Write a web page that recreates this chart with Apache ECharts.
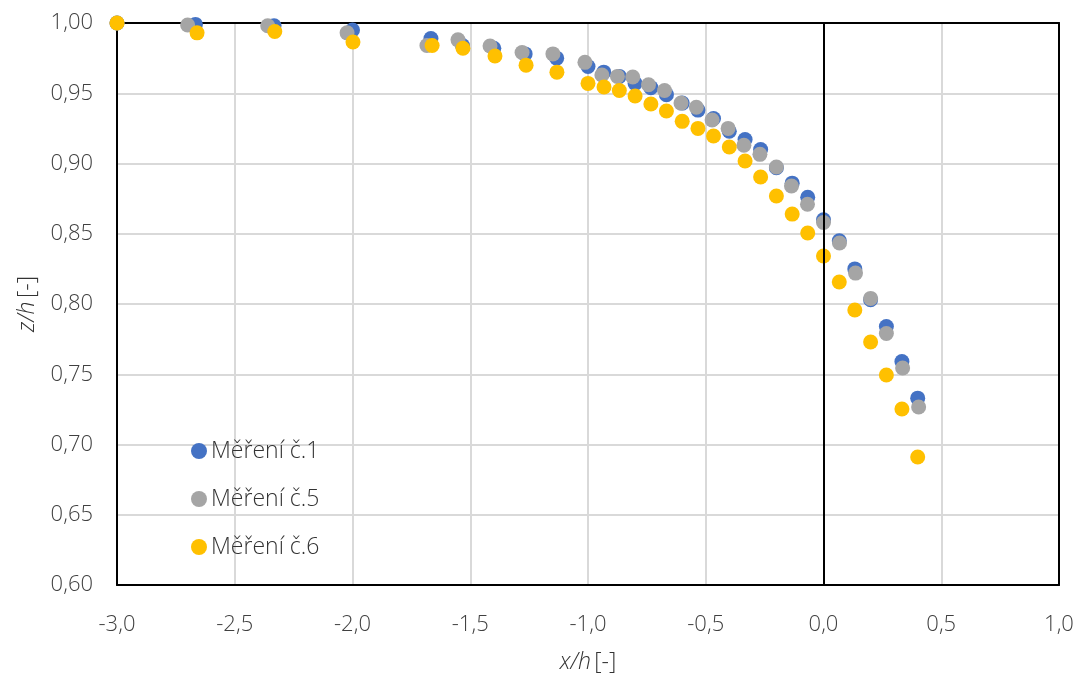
<!DOCTYPE html>
<html><head><meta charset="utf-8">
<script src="https://cdn.jsdelivr.net/npm/echarts@6/dist/echarts.min.js"></script>
<style>html,body{margin:0;padding:0;background:#fff;overflow:hidden}#c{width:1084px;height:673px;display:block}</style>
</head><body><div id="c"></div>
<script>
const seriesNames = ["Měření č.1", "Měření č.5", "Měření č.6"];
const x1 = [-3.0,-2.667,-2.333,-2.0,-1.667,-1.533,-1.4,-1.267,-1.133,-1.0,-0.933,-0.867,-0.8,-0.733,-0.667,-0.6,-0.533,-0.467,-0.4,-0.333,-0.267,-0.2,-0.133,-0.067,0.0,0.067,0.133,0.2,0.267,0.333,0.4];
const y1 = [1.0,0.999,0.998,0.995,0.989,0.984,0.982,0.978,0.975,0.969,0.965,0.962,0.957,0.954,0.949,0.943,0.938,0.932,0.923,0.917,0.910,0.897,0.886,0.876,0.860,0.845,0.825,0.803,0.784,0.759,0.733];
const x5 = [-3.0,-2.70,-2.36,-2.023,-1.684,-1.552,-1.416,-1.280,-1.149,-1.013,-0.941,-0.875,-0.81,-0.743,-0.675,-0.605,-0.54,-0.473,-0.405,-0.338,-0.27,-0.2,-0.136,-0.068,0.0,0.068,0.136,0.2,0.267,0.336,0.404];
const y5 = [1.0,0.9986,0.998,0.993,0.984,0.988,0.9836,0.979,0.978,0.972,0.963,0.962,0.9616,0.956,0.952,0.943,0.940,0.931,0.925,0.913,0.9065,0.8975,0.884,0.871,0.858,0.8434,0.822,0.804,0.779,0.7544,0.7267];
const x6 = [-3.0,-2.66,-2.33,-1.998,-1.662,-1.531,-1.395,-1.263,-1.132,-1.0,-0.932,-0.867,-0.8,-0.733,-0.667,-0.6,-0.533,-0.467,-0.4,-0.333,-0.267,-0.2,-0.133,-0.067,0.0,0.067,0.133,0.2,0.267,0.333,0.4];
const y6 = [1.0,0.993,0.994,0.9865,0.984,0.982,0.9765,0.970,0.965,0.957,0.9544,0.952,0.948,0.9423,0.9374,0.930,0.925,0.9196,0.9117,0.9018,0.8904,0.8769,0.864,0.8505,0.8342,0.8157,0.7957,0.773,0.7495,0.7253,0.6911];
const colors = ["#4472C4", "#A5A5A5", "#FFC000"];

const zip = (a, b) => a.map((v, i) => [v, b[i]]);
const fmt = (d) => (v) => v.toFixed(d).replace('.', ',');
const chart = echarts.init(document.getElementById('c'), null, {renderer: 'canvas'});
const font = 'Open Sans';
const tickStyle = {fontFamily: font, fontSize: 22, fontWeight: 300, color: '#404040'};
const rich = {i: {fontFamily: font, fontSize: 23, fontWeight: 300, fontStyle: 'italic', color: '#333333'}, n: {fontFamily: font, fontSize: 23, fontWeight: 300, color: '#333333'}};
const blackLine = {show: true, onZero: false, lineStyle: {color: '#000', width: 2}};
chart.setOption({
  animation: false,
  backgroundColor: '#fff',
  grid: {left: 117, right: 25, top: 23, bottom: 88, outerBoundsMode: 'none', containLabel: false},
  legend: {
    orient: 'vertical', left: 186, top: 434, itemGap: 24, itemWidth: 16, itemHeight: 16, icon: 'circle',
    textStyle: {fontFamily: font, fontSize: 23, fontWeight: 300, color: '#333333', lineHeight: 24, padding: [0,0,0,-1]},
    data: seriesNames
  },
  xAxis: [{
    type: 'value', min: -3, max: 1, interval: 0.5,
    axisLine: blackLine, axisTick: {show: false},
    splitLine: {show: true, lineStyle: {color: '#D9D9D9', width: 2}},
    axisLabel: Object.assign({formatter: fmt(1), margin: 29}, tickStyle),
    name: '{i|x/h} {n|[-]}', nameLocation: 'middle', nameGap: 66,
    nameTextStyle: {rich: rich}
  }, {
    type: 'value', position: 'top', min: -3, max: 1, interval: 0.5,
    axisLine: blackLine, axisTick: {show: false}, axisLabel: {show: false}, splitLine: {show: false}
  }],
  yAxis: [{
    type: 'value', min: 0.6, max: 1.0, interval: 0.05,
    axisLine: blackLine, axisTick: {show: false},
    splitLine: {show: true, lineStyle: {color: '#D9D9D9', width: 2}},
    axisLabel: Object.assign({formatter: fmt(2), margin: 24}, tickStyle),
    name: '{i|z/h} {n|[-]}', nameLocation: 'middle', nameGap: 78,
    nameTextStyle: {rich: rich}
  }, {
    type: 'value', position: 'right', min: 0.6, max: 1.0, interval: 0.05,
    axisLine: blackLine, axisTick: {show: false}, axisLabel: {show: false}, splitLine: {show: false}
  }],
  series: [
    {name: seriesNames[0], type: 'scatter', data: zip(x1, y1), symbolSize: 15, itemStyle: {color: colors[0], opacity: 1}, z: 2,
     markLine: {silent: true, symbol: 'none', label: {show: false}, lineStyle: {color: '#000', width: 2, type: 'solid'}, data: [{xAxis: 0}]}},
    {name: seriesNames[1], type: 'scatter', data: zip(x5, y5), symbolSize: 15, itemStyle: {color: colors[1], opacity: 1}, z: 3},
    {name: seriesNames[2], type: 'scatter', data: zip(x6, y6), symbolSize: 15, itemStyle: {color: colors[2], opacity: 1}, z: 4}
  ]
});
</script></body></html>
